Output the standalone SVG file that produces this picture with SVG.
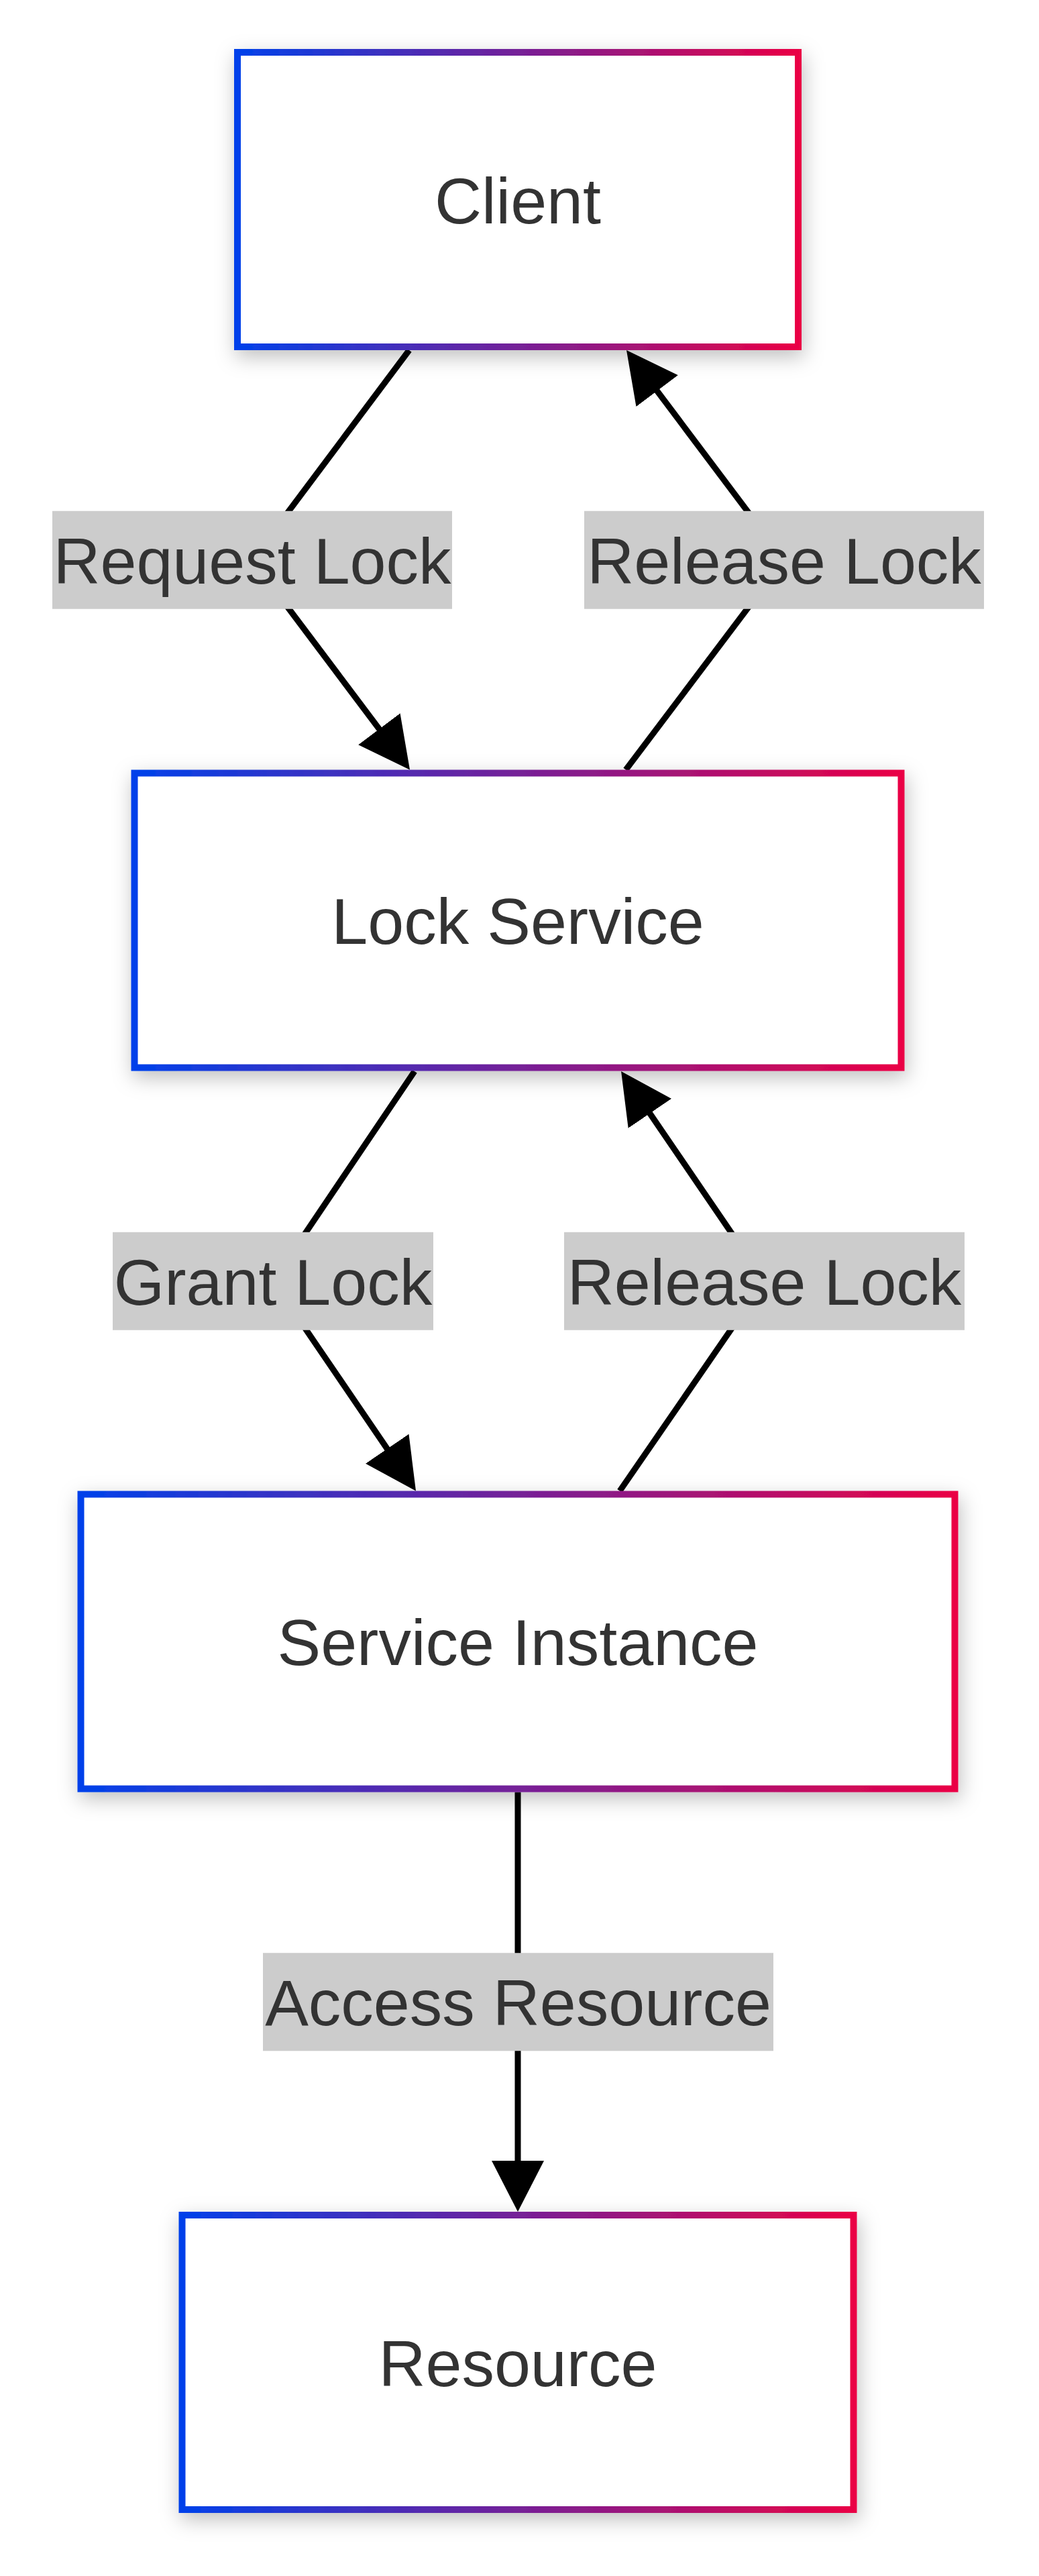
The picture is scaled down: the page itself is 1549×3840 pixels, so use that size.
<svg xmlns="http://www.w3.org/2000/svg" width="1549" height="3840" viewBox="0 0 1549 3840">
  <style>
    .node-box { fill: #ffffff; stroke: url(#nodeStroke); stroke-width: 10; filter: url(#shadow); }
    .node-text { font-family: "Liberation Sans", Arial, sans-serif; font-size: 97px; fill: #333333; text-anchor: middle; }
    .edge { fill: none; stroke: #000000; stroke-width: 9; marker-end: url(#arrow); }
    .label-bg { fill: #cccccc; }
    .label-text { font-family: "Liberation Sans", Arial, sans-serif; font-size: 97px; fill: #333333; text-anchor: middle; }
  </style>
  <defs>
    <linearGradient id="nodeStroke" x1="0" y1="0" x2="1" y2="0">
      <stop offset="0" stop-color="#0041ea"/>
      <stop offset="1" stop-color="#ea0045"/>
    </linearGradient>
    <filter id="shadow" x="-20%" y="-30%" width="140%" height="160%">
      <feDropShadow dx="3" dy="10" stdDeviation="15" flood-color="#000000" flood-opacity="0.25"/>
    </filter>
    <marker id="arrow" markerUnits="userSpaceOnUse" viewBox="0 0 76 78" markerWidth="76" markerHeight="78" refX="64" refY="39" orient="auto">
      <path d="M0,0 L76,39 L0,78 Z" fill="#000000"/>
    </marker>
  </defs>
  <rect width="1549" height="3840" fill="#ffffff"/>

  <g id="connectors">
    <path class="edge" d="M610,522 L376,834.75 L603.8,1137.9"/>
    <path class="edge" d="M933,1147.5 L1169,834.75 L941.2,531.6"/>
    <path class="edge" d="M618,1597 L407,1909.75 L613.25,2212.6"/>
    <path class="edge" d="M924,2222.5 L1139.5,1909.75 L932.8,1606.9"/>
    <path class="edge" d="M772,2671.5 L772,3285"/>
  </g>

  <g id="edge-labels">
    <g id="label-request-lock">
      <rect class="label-bg" x="78" y="761.75" width="596" height="146"/>
      <text class="label-text" x="376" y="869.75">Request Lock</text>
    </g>
    <g id="label-release-lock-1">
      <rect class="label-bg" x="871" y="761.75" width="596" height="146"/>
      <text class="label-text" x="1169" y="869.75">Release Lock</text>
    </g>
    <g id="label-grant-lock">
      <rect class="label-bg" x="168" y="1836.75" width="478" height="146"/>
      <text class="label-text" x="407" y="1944.75">Grant Lock</text>
    </g>
    <g id="label-release-lock-2">
      <rect class="label-bg" x="841" y="1836.75" width="597" height="146"/>
      <text class="label-text" x="1139.5" y="1944.75">Release Lock</text>
    </g>
    <g id="label-access-resource">
      <rect class="label-bg" x="392" y="2911.25" width="761" height="146"/>
      <text class="label-text" x="772.5" y="3019.25">Access Resource</text>
    </g>
  </g>

  <g id="node-client">
    <rect class="node-box" x="354" y="78" width="836" height="439"/>
    <text class="node-text" x="772" y="332.5">Client</text>
  </g>
  <g id="node-lock-service">
    <rect class="node-box" x="200.5" y="1152.5" width="1143" height="439"/>
    <text class="node-text" x="772" y="1407.25">Lock Service</text>
  </g>
  <g id="node-service-instance">
    <rect class="node-box" x="120.5" y="2227.5" width="1303" height="439"/>
    <text class="node-text" x="772" y="2482">Service Instance</text>
  </g>
  <g id="node-resource">
    <rect class="node-box" x="271.5" y="3302" width="1001" height="439"/>
    <text class="node-text" x="772" y="3556.5">Resource</text>
  </g>
</svg>
